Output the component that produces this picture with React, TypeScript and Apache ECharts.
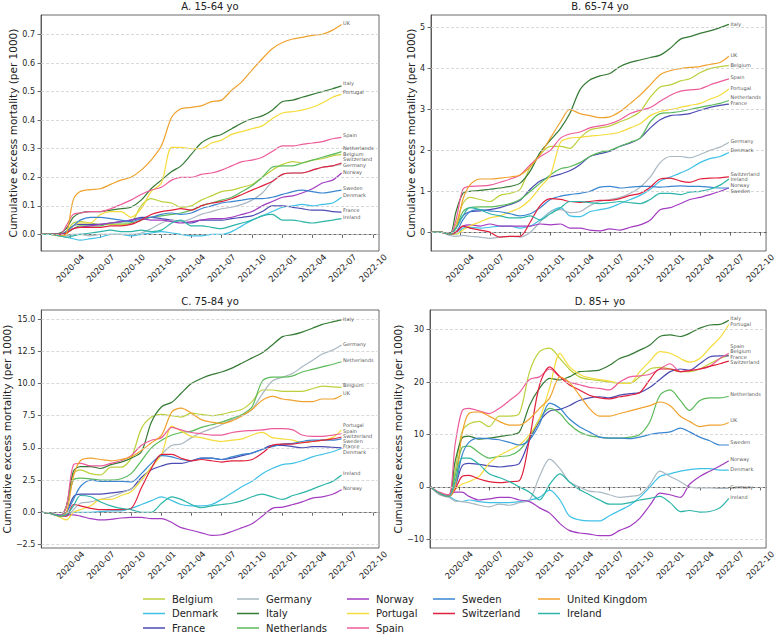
import React, { useEffect, useRef } from "react";
import * as echarts from "echarts";

const dates = ["2020-01-06","2020-02-01","2020-03-01","2020-03-20","2020-04-10","2020-05-01","2020-06-01","2020-07-01","2020-08-01","2020-09-01","2020-10-01","2020-11-01","2020-12-01","2021-01-01","2021-02-01","2021-03-01","2021-04-01","2021-05-01","2021-06-01","2021-07-01","2021-08-01","2021-09-01","2021-10-01","2021-11-01","2021-12-01","2022-01-01","2022-02-01","2022-03-01","2022-04-01","2022-05-01","2022-06-01","2022-06-28"];

const countries = ["Belgium","Denmark","France","Germany","Italy","Netherlands","Norway","Portugal","Spain","Sweden","Switzerland","United Kingdom","Ireland"];
const colors = ["#bdd03c","#3fc1e6","#4b4bb2","#a9b8c2","#347a34","#5cba5c","#a23cc0","#f5dc3c","#ec5c9a","#3a86d0","#e0203c","#f0a22e","#2cb5a8"];

const panelTitles = ["A. 15-64 yo","B. 65-74 yo","C. 75-84 yo","D. 85+ yo"];
const xTickLabels = ["2020-04","2020-07","2020-10","2021-01","2021-04","2021-07","2021-10","2022-01","2022-04","2022-07","2022-10"];
const yTicksA = [0, 0.1, 0.2, 0.3, 0.4, 0.5, 0.6, 0.7];
const yTicksB = [0, 1, 2, 3, 4, 5];
const yTicksC = [-2.5, 0, 2.5, 5, 7.5, 10, 12.5, 15];
const yTicksD = [-10, 0, 10, 20, 30];

// Panel A: 15-64
const A_Belgium = [0,0,0,0.01,0.04,0.045,0.04,0.035,0.035,0.035,0.04,0.1,0.125,0.115,0.11,0.095,0.1,0.12,0.135,0.15,0.155,0.165,0.175,0.2,0.225,0.245,0.255,0.25,0.26,0.265,0.275,0.28];
const A_Denmark = [0,0,-0.005,-0.01,-0.015,-0.02,-0.015,-0.01,0,0,-0.005,0,0.005,0.01,0.005,0,-0.005,-0.005,0,0,0.01,0.03,0.05,0.065,0.08,0.095,0.1,0.105,0.1,0.105,0.11,0.13];
const A_France = [0,0,0,0.005,0.03,0.035,0.035,0.035,0.04,0.045,0.05,0.06,0.06,0.055,0.05,0.045,0.04,0.05,0.05,0.05,0.055,0.06,0.065,0.08,0.1,0.1,0.095,0.09,0.085,0.085,0.08,0.078];
const A_Germany = [0,0,-0.005,-0.005,0,0,-0.005,0,0,0,0,0.005,0.02,0.04,0.05,0.045,0.055,0.07,0.08,0.09,0.095,0.105,0.12,0.145,0.185,0.21,0.215,0.215,0.225,0.235,0.24,0.245];
const A_Italy = [0,0,0.005,0.02,0.06,0.075,0.08,0.08,0.085,0.09,0.095,0.12,0.16,0.19,0.22,0.24,0.28,0.32,0.34,0.35,0.37,0.39,0.405,0.415,0.435,0.465,0.47,0.48,0.49,0.5,0.51,0.52];
const A_Netherlands = [0,0,0,0.005,0.02,0.03,0.03,0.03,0.04,0.04,0.04,0.05,0.06,0.065,0.07,0.075,0.085,0.1,0.11,0.12,0.13,0.15,0.17,0.2,0.235,0.24,0.24,0.25,0.26,0.27,0.28,0.29];
const A_Norway = [0,0,0,0.005,0.02,0.025,0.03,0.035,0.04,0.045,0.05,0.055,0.05,0.05,0.045,0.04,0.045,0.05,0.055,0.055,0.06,0.07,0.08,0.1,0.115,0.13,0.135,0.145,0.16,0.18,0.19,0.215];
const A_Portugal = [0,0,-0.005,0,0.03,0.04,0.04,0.07,0.08,0.08,0.06,0.09,0.15,0.18,0.305,0.305,0.3,0.3,0.32,0.33,0.35,0.36,0.37,0.38,0.405,0.425,0.43,0.435,0.445,0.46,0.48,0.49];
const A_Spain = [0,0,0,0.03,0.07,0.075,0.08,0.08,0.09,0.105,0.12,0.14,0.155,0.165,0.19,0.2,0.2,0.21,0.215,0.225,0.24,0.255,0.26,0.27,0.29,0.31,0.31,0.315,0.32,0.325,0.335,0.34];
const A_Sweden = [0,0,0,0.01,0.03,0.05,0.06,0.06,0.055,0.05,0.045,0.055,0.06,0.07,0.075,0.07,0.075,0.09,0.1,0.11,0.115,0.12,0.125,0.125,0.13,0.14,0.15,0.155,0.15,0.145,0.15,0.155];
const A_Switzerland = [0,0,0,0.005,0.02,0.025,0.025,0.025,0.03,0.03,0.035,0.05,0.07,0.08,0.085,0.09,0.085,0.1,0.11,0.115,0.125,0.14,0.155,0.17,0.185,0.21,0.215,0.215,0.225,0.235,0.24,0.25];
const A_UK = [0,0,-0.005,0,0.12,0.15,0.157,0.16,0.175,0.19,0.2,0.225,0.26,0.31,0.41,0.44,0.445,0.45,0.465,0.47,0.505,0.535,0.575,0.615,0.65,0.672,0.684,0.69,0.697,0.7,0.715,0.735];
const A_Ireland = [0,0,-0.005,-0.01,-0.005,0,0.005,0.01,0.015,0.01,0.01,0.015,0.01,0.015,0.04,0.05,0.03,0.03,0.025,0.02,0.03,0.04,0.05,0.065,0.07,0.05,0.05,0.045,0.04,0.045,0.05,0.055];

// Panel B: 65-74
const B_Belgium = [0,0,-0.05,0.2,0.7,0.85,0.8,0.75,0.9,0.95,1.05,1.6,1.9,2.1,2.1,2.05,2.3,2.5,2.55,2.6,2.7,2.8,2.95,3.3,3.55,3.6,3.7,3.75,3.9,4.0,4.05,4.07];
const B_Denmark = [0,0,-0.05,-0.05,0.1,0.12,0.1,0.12,0.15,0.15,0.1,0.15,0.3,0.5,0.6,0.4,0.38,0.5,0.55,0.6,0.7,0.8,0.9,1.05,1.25,1.35,1.45,1.55,1.7,1.8,1.85,1.95];
const B_France = [0,0,-0.05,0.1,0.4,0.5,0.52,0.55,0.6,0.68,0.78,1.05,1.25,1.35,1.42,1.5,1.65,1.85,1.92,1.98,2.1,2.18,2.3,2.55,2.75,2.85,2.87,2.9,2.98,3.05,3.1,3.13];
const B_Germany = [0,0,-0.08,-0.1,-0.08,-0.1,-0.12,-0.15,-0.12,-0.1,-0.12,0,0.25,0.5,0.55,0.48,0.5,0.65,0.75,0.8,0.85,0.95,1.1,1.35,1.7,1.85,1.85,1.82,1.9,2.0,2.08,2.2];
const B_Italy = [0,0,-0.05,0.5,0.95,1.0,1.02,1.05,1.08,1.12,1.2,1.5,1.95,2.25,2.54,2.9,3.48,3.72,3.82,3.88,4.05,4.15,4.21,4.27,4.33,4.5,4.72,4.78,4.86,4.92,5.0,5.08];
const B_Netherlands = [0,0,-0.05,0.1,0.5,0.6,0.62,0.62,0.65,0.7,0.8,1.0,1.2,1.4,1.55,1.6,1.7,1.85,1.95,2.0,2.1,2.2,2.3,2.7,2.9,2.92,2.95,3.0,3.05,3.1,3.15,3.22];
const B_Norway = [0,0,-0.05,0,0.15,0.18,0.15,0.2,0.15,0.15,0.15,0.15,0.2,0.18,0.2,0.1,0.1,0.05,0.03,0.08,0.05,0.12,0.18,0.3,0.55,0.6,0.7,0.8,0.85,0.92,1.0,1.08];
const B_Portugal = [0,0,-0.05,-0.05,0.05,0.15,0.25,0.35,0.4,0.5,0.6,0.8,1.1,1.4,2.2,2.3,2.32,2.35,2.37,2.4,2.45,2.55,2.65,2.85,2.95,3.0,3.05,3.1,3.15,3.25,3.35,3.5];
const B_Spain = [0,0,-0.05,0.3,1.05,1.12,1.13,1.15,1.22,1.3,1.4,1.65,1.85,2.0,2.3,2.4,2.45,2.55,2.6,2.65,2.75,2.9,2.98,3.05,3.2,3.35,3.45,3.48,3.5,3.6,3.68,3.75];
const B_Sweden = [0,0,-0.05,0,0.3,0.5,0.55,0.52,0.5,0.45,0.4,0.45,0.6,0.8,0.88,0.92,0.95,1.0,1.1,1.12,1.08,1.1,1.12,1.12,1.1,1.12,1.13,1.12,1.12,1.1,1.08,1.08];
const B_Switzerland = [0,0,-0.05,0,0.15,0.1,0.05,0,-0.12,-0.1,-0.1,0.25,0.65,0.82,0.8,0.75,0.73,0.75,0.78,0.78,0.82,0.9,0.95,1.1,1.3,1.32,1.25,1.22,1.3,1.32,1.33,1.35];
const B_UK = [0,0,-0.05,0.1,0.8,1.15,1.3,1.3,1.32,1.35,1.4,1.6,1.9,2.3,2.7,3.0,2.9,2.85,2.8,2.82,2.95,3.15,3.35,3.6,3.85,3.95,4.0,4.03,4.05,4.1,4.15,4.3];
const B_Ireland = [0,0,-0.05,0.1,0.4,0.6,0.55,0.45,0.4,0.35,0.35,0.4,0.3,0.45,0.6,0.75,0.75,0.72,0.7,0.72,0.75,0.72,0.7,0.8,0.95,0.95,0.92,0.98,1.0,1.05,1.15,1.3];

// Panel C: 75-84
const C_Belgium = [0,-0.1,-0.3,0.5,3.0,3.3,3.0,2.9,3.5,3.5,4.2,6.5,7.4,7.6,7.5,7.4,7.7,7.6,7.5,7.6,7.8,8.0,8.6,9.5,9.5,9.4,9.4,9.4,9.6,9.8,9.75,9.7];
const C_Denmark = [0,-0.1,-0.3,-0.2,0,0,0,0.05,0.1,0.1,0.3,0.6,0.9,1.2,0.9,0.6,0.5,0.5,0.6,1.0,1.5,2.0,2.4,3.0,3.4,3.7,3.8,4.0,4.3,4.5,4.7,4.95];
const C_France = [0,-0.1,-0.3,0,1.2,1.4,1.4,1.4,1.5,1.6,1.8,2.7,3.3,3.6,3.8,3.8,4.0,4.2,4.2,4.1,4.2,4.4,4.6,4.9,5.2,5.2,5.1,5.0,5.1,5.1,5.05,5.0];
const C_Germany = [0,-0.1,-0.3,-0.3,0.2,0.7,0.8,1.0,1.2,1.5,1.8,2.5,3.5,4.5,5.2,5.3,5.8,6.2,6.5,6.8,7.2,7.5,8.0,9.2,10.2,10.5,10.8,11.3,11.8,12.3,12.6,13.0];
const C_Italy = [0,-0.1,-0.3,0.5,3.2,3.55,3.55,3.4,3.7,3.9,4.2,4.7,7.0,8.2,8.55,9.25,10.0,10.4,10.7,10.9,11.2,11.6,12.0,12.4,13.0,13.65,13.8,14.0,14.3,14.6,14.8,14.95];
const C_Netherlands = [0,-0.1,-0.3,0.5,2.5,2.65,2.6,2.5,2.5,2.6,3.0,4.0,5.0,5.6,6.0,6.2,6.3,6.6,6.8,7.0,7.3,7.6,8.2,10.2,10.5,10.5,10.6,10.9,11.1,11.3,11.5,11.7];
const C_Norway = [0,-0.1,-0.2,-0.2,-0.2,-0.3,-0.5,-0.6,-0.55,-0.45,-0.4,-0.4,-0.5,-0.5,-0.8,-1.2,-1.4,-1.6,-1.8,-1.75,-1.5,-1.2,-0.9,-0.3,0.3,0.4,0.6,0.8,1.1,1.2,1.4,1.75];
const C_Portugal = [0,-0.1,-0.4,-0.6,0,0.2,0.5,1.0,1.0,1.3,1.6,2.5,3.5,4.5,6.7,6.3,5.9,5.8,5.6,5.5,5.6,5.7,6.0,6.2,5.8,5.7,5.6,5.4,5.5,5.6,5.8,6.4];
const C_Spain = [0,-0.1,-0.3,0.5,3.7,3.8,3.6,3.6,3.8,4.0,4.4,5.2,5.6,5.8,6.6,6.4,6.2,6.1,6.0,6.0,6.2,6.3,6.35,6.4,6.5,6.5,6.4,6.0,5.9,5.9,6.0,6.1];
const C_Sweden = [0,-0.1,-0.3,0,1.0,2.0,2.5,2.4,2.4,2.4,2.35,3.0,3.8,4.4,4.3,4.1,4.0,4.2,4.2,4.1,4.3,4.5,4.6,4.9,5.1,5.3,5.35,5.5,5.6,5.6,5.6,5.7];
const C_Switzerland = [0,-0.1,-0.3,-0.3,0.6,0.5,0.3,0.2,0.2,0.2,0.3,1.9,3.4,4.5,4.5,4.2,4.0,4.1,4.0,3.9,4.0,4.0,4.1,4.6,5.2,5.3,5.3,5.4,5.5,5.6,5.7,5.85];
const C_UK = [0,-0.1,-0.3,0,2.8,4.0,4.2,4.1,4.0,4.1,4.3,4.8,5.4,6.0,7.8,8.1,7.7,7.2,7.0,6.9,7.1,7.5,8.0,8.7,9.0,8.8,8.7,8.6,8.6,8.8,8.8,9.1];
const C_Ireland = [0,-0.1,-0.3,-0.2,0.5,1.3,1.2,0.8,0.5,0.3,0.2,0,0,0.7,1.2,1.0,0.6,0.35,0.5,0.6,0.7,0.9,1.2,1.4,1.2,1.0,1.3,1.5,1.8,2.1,2.4,2.9];

// Panel D: 85+
const D_Belgium = [0,-1.2,-1.8,3.0,10.5,12.0,12.5,11.5,13.5,13.5,14.0,22.0,25.8,26.5,24.5,22.5,21.0,20.5,20.3,20.0,19.8,19.8,21.0,22.5,22.8,22.5,22.0,22.0,22.5,23.5,24.5,25.2];
const D_Denmark = [0,-1.2,-1.8,-2.5,-2.8,-2.5,-2.8,-3.0,-3.0,-3.0,-2.8,-2.5,-2.0,-0.6,-2.5,-5.5,-6.3,-6.5,-6.5,-5.5,-4.5,-3.5,-2.0,0,2.0,2.5,3.0,3.3,3.5,3.5,3.2,3.2];
const D_France = [0,-1.2,-1.8,0,4.0,4.5,4.3,4.0,3.8,4.0,4.5,9.0,12.5,14.5,14.8,15.5,16.5,17.0,17.2,17.0,17.5,17.8,18.0,19.0,20.5,22.0,22.5,22.3,23.5,24.8,25.0,25.0];
const D_Germany = [0,-1.5,-2.0,-2.7,-2.8,-3.0,-3.5,-3.8,-3.3,-3.5,-3.0,-2.5,2.0,5.3,3.5,1.0,0,-0.8,-1.0,-1.5,-2.0,-1.8,-1.5,0.5,3.0,2.0,1.0,0,-0.2,-0.2,-0.3,-0.3];
const D_Italy = [0,-1.2,-1.8,4.8,9.3,9.7,9.1,9.3,9.6,9.9,10.5,15.6,18.8,20.7,20.4,21.0,22.0,22.1,22.3,23.2,24.5,25.2,26.1,27.1,28.7,29.0,28.7,29.3,30.3,30.9,31.0,31.8];
const D_Netherlands = [0,-1.2,-1.8,2.0,7.5,7.8,6.5,5.5,5.8,6.0,7.0,9.5,13.0,15.0,14.0,12.0,10.5,9.8,9.5,9.3,9.3,9.5,10.0,12.5,17.5,18.5,16.5,14.6,16.5,17.0,17.0,17.3];
const D_Norway = [0,-1.2,-1.5,-1.0,-1.0,-1.8,-2.5,-2.3,-2.0,-2.0,-2.5,-2.8,-4.0,-5.0,-7.0,-8.3,-8.8,-9.0,-9.3,-9.3,-8.3,-7.5,-6.0,-3.5,-1.2,-1.5,-2.0,0.5,2.0,3.0,4.0,5.0];
const D_Portugal = [0,-1.2,-1.8,-0.5,0.5,1.0,2.0,4.5,6.0,7.0,8.0,10.0,13.0,19.0,25.5,23.0,21.5,20.8,20.5,20.2,19.8,19.8,22.0,24.0,25.8,25.5,24.5,23.8,24.5,26.5,28.5,31.0];
const D_Spain = [0,-1.0,-1.5,8.0,14.5,15.0,14.5,14.0,15.0,16.5,18.0,20.5,21.0,22.5,21.0,20.0,19.5,19.0,18.8,18.5,20.0,21.0,21.2,21.5,22.5,23.5,22.0,22.2,22.5,23.0,24.5,25.5];
const D_Sweden = [0,-1.2,-1.8,0,6.0,8.5,9.3,9.2,9.0,8.5,8.0,9.0,12.0,16.0,15.0,13.0,11.5,10.5,9.5,9.3,9.3,9.2,9.5,10.0,10.3,10.5,11.2,10.5,9.5,8.8,8.0,8.0];
const D_Switzerland = [0,-1.2,-1.8,-0.5,2.0,2.2,1.5,1.0,0.8,1.0,1.2,9.3,19.4,22.9,21.0,19.5,18.5,17.5,17.0,16.8,17.2,17.5,18.0,20.5,22.5,22.5,22.0,22.2,22.5,23.0,23.5,24.0];
const D_UK = [0,-1.2,-1.8,0,10.0,14.0,14.3,13.5,12.5,11.8,11.8,13.0,15.0,17.0,21.0,20.0,17.5,15.0,13.5,13.5,14.0,14.5,15.0,15.5,16.2,15.5,13.5,12.5,11.5,11.8,11.8,12.3];
const D_Ireland = [0,-1.2,-1.8,1.0,5.5,5.5,4.3,2.5,1.8,1.0,0,-1.0,-2.5,0.5,2.5,1.0,-0.5,-1.5,-2.5,-3.3,-3.3,-3.0,-2.5,-2.2,-1.8,-3.0,-4.7,-4.5,-4.8,-4.7,-4.0,-2.2];

// End-of-line labels (text and vertical position in data units)
const labelNamesA = ["UK","Italy","Portugal","Spain","Netherlands","Belgium","Switzerland","Germany","Norway","Sweden","Denmark","France","Ireland"];
const labelYA = [0.739,0.529,0.497,0.348,0.303,0.283,0.263,0.243,0.218,0.163,0.137,0.084,0.061];
const labelNamesB = ["Italy","UK","Belgium","Spain","Portugal","Netherlands","France","Germany","Denmark","Switzerland","Ireland","Norway","Sweden"];
const labelYB = [5.1,4.33,4.09,3.79,3.52,3.31,3.17,2.22,2.0,1.43,1.3,1.15,1.01];
const labelNamesC = ["Italy","Germany","Netherlands","Belgium","UK","Portugal","Spain","Switzerland","Sweden","France","Denmark","Ireland","Norway"];
const labelYC = [15.0,13.06,11.8,9.9,9.25,6.75,6.34,5.93,5.53,5.13,4.72,3.08,1.87];
const labelNamesD = ["Italy","Portugal","Spain","Belgium","France","Switzerland","Netherlands","UK","Sweden","Norway","Denmark","Germany","Ireland"];
const labelYD = [32.2,31.0,26.9,25.85,24.8,23.75,17.7,12.7,8.5,5.3,3.5,0.05,-1.9];

const panelData = [
  [A_Belgium,A_Denmark,A_France,A_Germany,A_Italy,A_Netherlands,A_Norway,A_Portugal,A_Spain,A_Sweden,A_Switzerland,A_UK,A_Ireland],
  [B_Belgium,B_Denmark,B_France,B_Germany,B_Italy,B_Netherlands,B_Norway,B_Portugal,B_Spain,B_Sweden,B_Switzerland,B_UK,B_Ireland],
  [C_Belgium,C_Denmark,C_France,C_Germany,C_Italy,C_Netherlands,C_Norway,C_Portugal,C_Spain,C_Sweden,C_Switzerland,C_UK,C_Ireland],
  [D_Belgium,D_Denmark,D_France,D_Germany,D_Italy,D_Netherlands,D_Norway,D_Portugal,D_Spain,D_Sweden,D_Switzerland,D_UK,D_Ireland],
];
const panelLabels = [[labelNamesA,labelYA],[labelNamesB,labelYB],[labelNamesC,labelYC],[labelNamesD,labelYD]];
const panelTicks = [yTicksA, yTicksB, yTicksC, yTicksD];
const panelDecimals = [1, 0, 1, 0];
const panelYRange = [[-0.058,0.768],[-0.46,5.31],[-2.78,15.72],[-11.66,33.76]];

const FONT = "DejaVu Sans";
const ts = (s: string) => Date.parse(s + "T00:00:00Z");

export default function App() {
  const ref = useRef<HTMLDivElement>(null);
  useEffect(() => {
    if (!ref.current) return;
    const chart = echarts.init(ref.current, undefined, { renderer: "svg" });

    const grids = [
      { left: 41, top: 15, width: 338, height: 236 },
      { left: 431, top: 15, width: 338, height: 236 },
      { left: 41, top: 310, width: 338, height: 238 },
      { left: 430, top: 310, width: 339, height: 238 },
    ];
    const nameGaps = [21, 13, 28, 27];
    const titlePos = [[210, 1], [600, 1], [210, 296], [600, 296]];
    const xTickValues = xTickLabels.map((s) => ts(s + "-01"));
    const xMin = ts("2020-01-04");
    const xMax = ts("2022-10-19");
    const lastTs = ts(dates[dates.length - 1]);
    const fmtY = (d: number) => (v: number) => v.toFixed(d).replace("-", "\u2212");

    const series: any[] = [];
    panelData.forEach((rows, p) => {
      series.push({
        type: "line",
        xAxisIndex: p,
        yAxisIndex: p,
        data: [],
        silent: true,
        z: 1,
        markLine: {
          silent: true,
          symbol: ["none", "none"],
          label: { show: false },
          lineStyle: { color: "#cfcfcf", type: [3, 2], width: 0.8 },
          data: panelTicks[p].map((v) => ({ yAxis: v })),
        },
      });
      rows.forEach((vals, i) => {
        series.push({
          type: "line",
          name: countries[i],
          xAxisIndex: p,
          yAxisIndex: p,
          symbol: "none",
          smooth: 0.3,
          z: 2,
          lineStyle: { width: 1.2, color: colors[i] },
          itemStyle: { color: colors[i] },
          data: dates.map((d, j) => [ts(d), vals[j]]),
        });
      });
      const [names, ys] = panelLabels[p] as [string[], number[]];
      series.push({
        type: "scatter",
        xAxisIndex: p,
        yAxisIndex: p,
        symbol: "circle",
        symbolSize: 1,
        silent: true,
        z: 5,
        itemStyle: { color: "rgba(0,0,0,0)" },
        label: {
          show: true,
          position: "right",
          distance: 1,
          fontSize: 5,
          lineHeight: 5,
          color: "#222",
          fontFamily: FONT,
          formatter: (prm: any) => prm.value[2],
        },
        data: names.map((n, k) => [lastTs, ys[k], n]),
      });
    });

    const legendCols = [
      { data: ["Belgium", "Denmark", "France"], left: 143 },
      { data: ["Germany", "Italy", "Netherlands"], left: 237 },
      { data: ["Norway", "Portugal", "Spain"], left: 347 },
      { data: ["Sweden", "Switzerland"], left: 433 },
      { data: ["United Kingdom", "Ireland"], left: 538 },
    ];

    chart.setOption({
      animation: false,
      textStyle: { fontFamily: FONT },
      title: panelTitles.map((t, p) => ({
        text: t,
        left: titlePos[p][0],
        top: titlePos[p][1],
        textAlign: "center",
        padding: 0,
        textStyle: { fontSize: 10, fontWeight: "normal", color: "#222", fontFamily: FONT },
      })),
      legend: legendCols.map((c) => ({
        data: c.data,
        left: c.left,
        top: 593,
        orient: "vertical",
        icon: "rect",
        itemWidth: 22,
        itemHeight: 1.5,
        itemGap: 2.5,
        padding: 0,
        selectedMode: false,
        textStyle: { fontSize: 10, lineHeight: 12, color: "#222", fontFamily: FONT, padding: [0, 0, 0, 2] },
      })),
      grid: grids.map((g) => ({ ...g, show: true, borderColor: "#444", borderWidth: 0.8, backgroundColor: "transparent" })),
      xAxis: grids.map((_, p) => ({
        type: "value",
        gridIndex: p,
        min: xMin,
        max: xMax,
        axisLine: { show: true, lineStyle: { color: "#444", width: 0.8 } },
        axisTick: { show: true, length: 3.5, customValues: xTickValues, lineStyle: { color: "#444", width: 0.8 } },
        splitLine: { show: false },
        axisLabel: {
          customValues: xTickValues,
          rotate: 45,
          align: "center",
          verticalAlign: "middle",
          margin: 17,
          fontSize: 8.5,
          color: "#262626",
          fontFamily: FONT,
          formatter: (v: number) => {
            const d = new Date(v);
            return d.getUTCFullYear() + "-" + String(d.getUTCMonth() + 1).padStart(2, "0");
          },
        },
      })),
      yAxis: grids.map((_, p) => ({
        type: "value",
        gridIndex: p,
        min: panelYRange[p][0],
        max: panelYRange[p][1],
        name: "Cumulative excess mortality (per 1000)",
        nameLocation: "middle",
        nameGap: nameGaps[p],
        nameTextStyle: { fontSize: 10.5, color: "#222", fontFamily: FONT },
        axisLine: { show: true, lineStyle: { color: "#444", width: 0.8 } },
        axisTick: { show: true, length: 3.5, customValues: panelTicks[p], lineStyle: { color: "#444", width: 0.8 } },
        splitLine: { show: false },
        axisLabel: {
          customValues: panelTicks[p],
          margin: 6,
          fontSize: 8,
          color: "#262626",
          fontFamily: FONT,
          formatter: fmtY(panelDecimals[p]),
        },
      })),
      series,
    });
    return () => chart.dispose();
  }, []);
  return <div ref={ref} style={{ position: "fixed", left: 0, top: 0, width: 778, height: 635, background: "#fff" }} />;
}
